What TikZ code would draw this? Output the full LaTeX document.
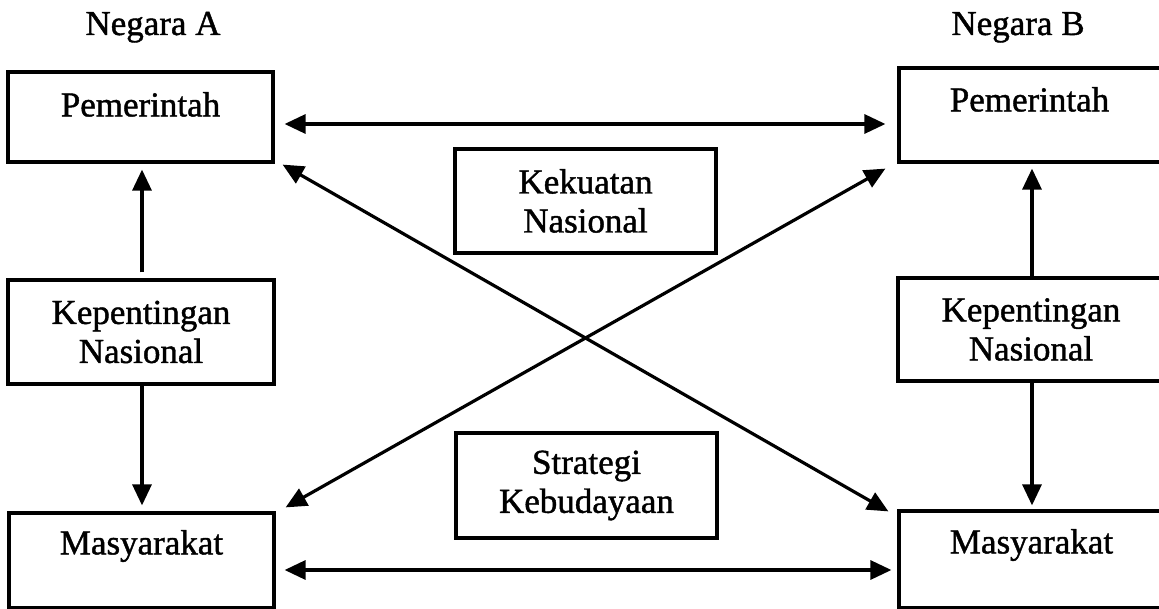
\documentclass[tikz,border=0pt]{standalone}
\usepackage{fontspec}
\setmainfont{Liberation Serif}[FakeBold=1.2]
\usetikzlibrary{arrows.meta}
\begin{document}
\begin{tikzpicture}[x=1pt,y=-1pt,
  box/.style={draw, line width=3.2pt, inner sep=0pt, align=center, font=\fontsize{35}{39}\selectfont},
  lbl/.style={inner sep=0pt, font=\fontsize{35}{39}\selectfont},
  arr/.style={line width=3.2pt, -{Triangle[length=21pt,width=19pt]}},
  dbl/.style={line width=3.2pt, {Triangle[length=21pt,width=19pt]}-{Triangle[length=21pt,width=19pt]}}]
\useasboundingbox (0,0) rectangle (1159,609);
\clip (0,0) rectangle (1159,609);
\fill[white] (0,0) rectangle (1159,609);
% boxes
\node[box, minimum width=265pt, minimum height=90pt] (pa) at (140.5,117) {};
\node[box, minimum width=266pt, minimum height=104pt] (ka) at (141,332) {Kepentingan\\Nasional};
\node[box, minimum width=265pt, minimum height=95pt] (ma) at (141.5,560.5) {};
\node[box, minimum width=265pt, minimum height=94pt] (pb) at (1031.5,115) {};
\node[box, minimum width=266pt, minimum height=103pt] (kb) at (1031,329.5) {Kepentingan\\Nasional};
\node[box, minimum width=265pt, minimum height=97pt] (mb) at (1031.5,559.5) {};
\node[box, minimum width=261pt, minimum height=104pt] (kn) at (585.5,201) {Kekuatan\\Nasional};
\node[box, minimum width=261pt, minimum height=105pt] (sk) at (586.5,485.5) {Strategi\\Kebudayaan};
% labels
\node[lbl, anchor=base] (tpa) at ([yshift=-46pt]pa.north) {Pemerintah};
\node[lbl, anchor=base] (tpb) at ([xshift=-2pt,yshift=-45pt]pb.north) {Pemerintah};
\node[lbl, anchor=base] (tma) at ([yshift=-43pt]ma.north) {Masyarakat};
\node[lbl, anchor=base] (tmb) at ([yshift=-44pt]mb.north) {Masyarakat};
\node[lbl, anchor=base] (na) at (153,35) {Negara A};
\node[lbl, anchor=base] (nb) at (1018,35) {Negara B};
% vertical arrows
\draw[arr] ([xshift=1pt,yshift=6pt]ka.north) -- ([xshift=1.5pt,yshift=-6pt]pa.south);
\draw[arr] ([xshift=1pt]ka.south) -- ([xshift=0.5pt,yshift=6pt]ma.north);
\draw[arr] ([xshift=1pt]kb.north) -- ([xshift=0.5pt,yshift=-5pt]pb.south);
\draw[arr] ([xshift=1pt]kb.south) -- ([xshift=0.5pt,yshift=4pt]mb.north);
% horizontal arrows
\draw[dbl] ([xshift=10pt,yshift=-7pt]pa.east) -- ([xshift=-12pt,yshift=-9pt]pb.west);
\draw[dbl] ([xshift=9pt,yshift=-9.5pt]ma.east) -- ([xshift=-6pt,yshift=-10.5pt]mb.west);
% diagonals
\draw[dbl] ([xshift=8pt,yshift=-1pt]pa.south east) -- ([xshift=-9pt,yshift=-2pt]mb.north west);
\draw[dbl] ([xshift=10pt,yshift=4pt]ma.north east) -- ([xshift=-12pt,yshift=-5pt]pb.south west);
\end{tikzpicture}
\end{document}
